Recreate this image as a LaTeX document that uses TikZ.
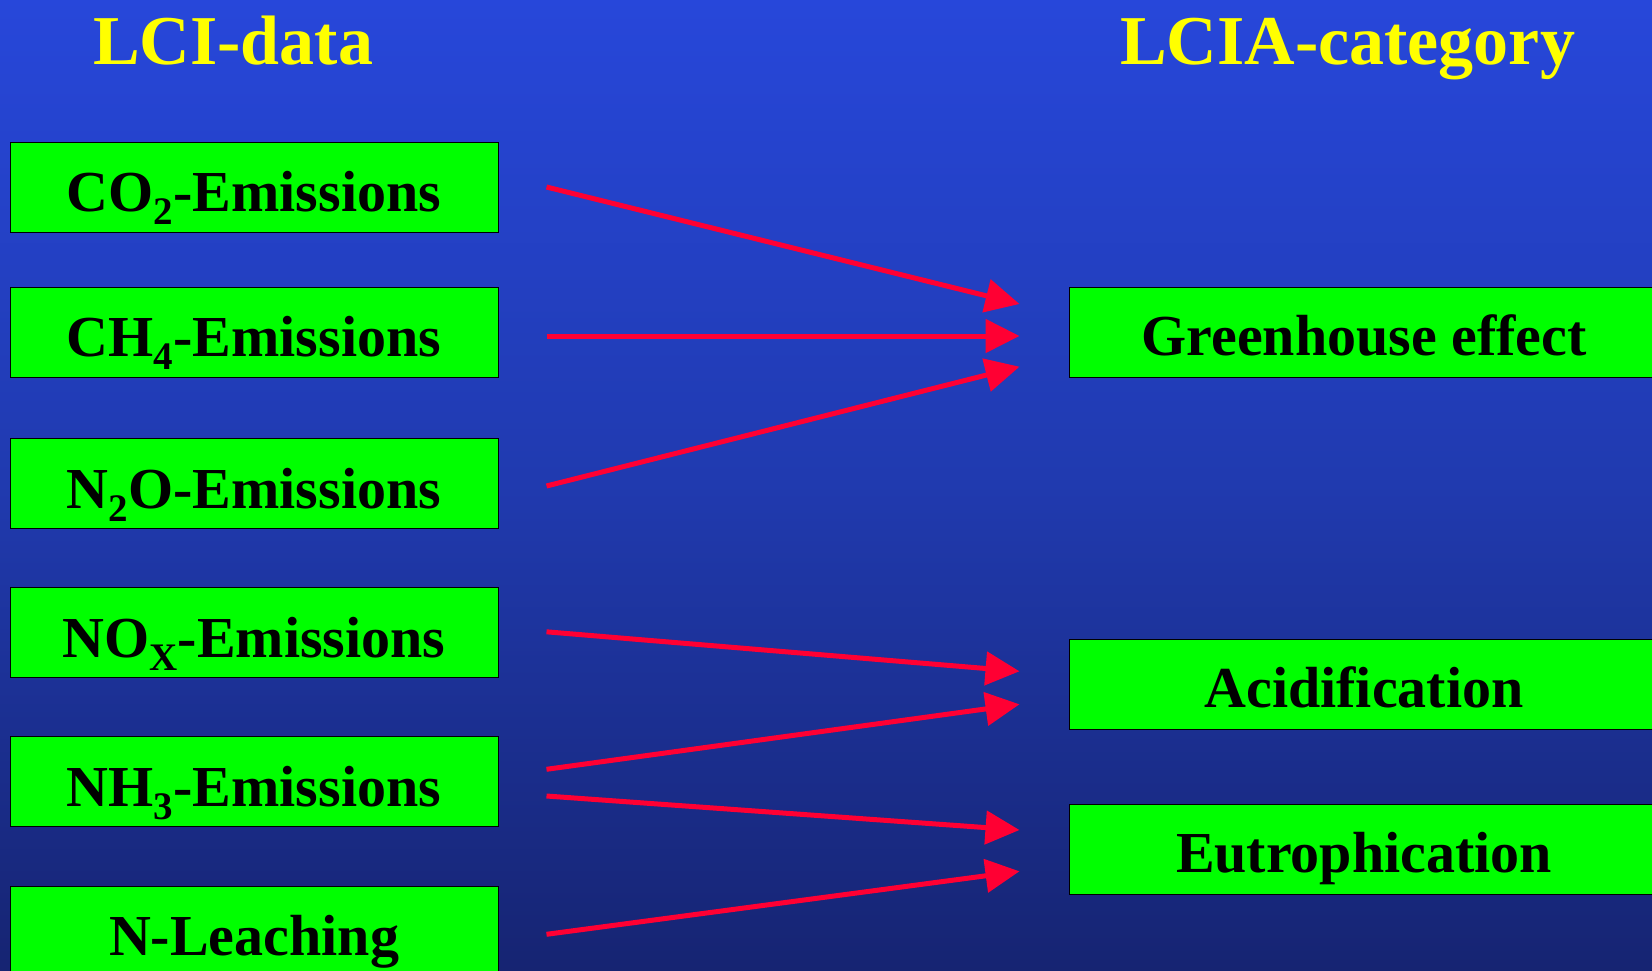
\documentclass[tikz,border=0pt]{standalone}
\usepackage{fontspec}
\setmainfont{Liberation Serif}
\usetikzlibrary{arrows.meta,calc}
\definecolor{bgtop}{RGB}{39,71,218}
\definecolor{bgmid}{RGB}{32,58,175}
\definecolor{bgbot}{RGB}{22,36,114}
\definecolor{boxgreen}{RGB}{0,255,0}
\definecolor{arrred}{RGB}{255,0,51}
\definecolor{titley}{RGB}{255,255,0}
\newcommand\lowsub[1]{\raisebox{-13pt}{\fontsize{39}{40}\selectfont #1}}
\begin{document}
\begin{tikzpicture}[x=1pt,y=-1pt,
  lbox/.style={draw=black,line width=1pt,fill=boxgreen,minimum width=488pt,
    minimum height=90pt,inner sep=0pt,text height=49pt,text depth=0pt,
    font=\fontsize{58}{60}\selectfont\bfseries},
  rbox/.style={lbox,minimum width=590pt,text height=46pt},
  ttl/.style={anchor=base west,inner sep=0pt,text=titley,
    font=\fontsize{70}{72}\selectfont\bfseries},
  arr/.style={draw=arrred,line width=5pt,-{Triangle[length=34pt,width=33pt]}}]
\useasboundingbox (0,0) rectangle (1652,970);
\clip (0,0) rectangle (1652,970);
\shade[top color=bgtop,bottom color=bgbot,middle color=bgmid] (0,0) rectangle (1652,970);

\node[ttl] (t1) at (93,64) {LCI-data};
\node[ttl] (t2) at (1120,64) {LCIA-category};

\node[lbox] (co2) at (254,187) {CO\lowsub{2}-Emissions};
\node[lbox] (ch4) at (254,332) {CH\lowsub{4}-Emissions};
\node[lbox] (n2o) at (254,483.6) {N\lowsub{2}O-Emissions};
\node[lbox] (nox) at (254,632.8) {NO\lowsub{X}-Emissions};
\node[lbox] (nh3) at (254,781.7) {NH\lowsub{3}-Emissions};
\node[lbox] (nl) at (254,931) {N-Leaching};

\node[rbox] (gh) at (1364,332) {Greenhouse effect};
\node[rbox] (ac) at (1364,684) {Acidification};
\node[rbox] (eu) at (1364,849.7) {Eutrophication};

\draw[arr] ($(co2.east)+(48,0)$) -- ($(gh.west)+(-49,-28)$);
\draw[arr] ($(ch4.east)+(48,4)$) -- ($(gh.west)+(-49,4)$);
\draw[arr] ($(n2o.east)+(48,2.4)$) -- ($(gh.west)+(-49,34.7)$);
\draw[arr] ($(nox.east)+(48,-1)$) -- ($(ac.west)+(-49,-12.7)$);
\draw[arr] ($(nh3.east)+(48,-12.4)$) -- ($(ac.west)+(-49,20.3)$);
\draw[arr] ($(nh3.east)+(48,14.3)$) -- ($(eu.west)+(-49,-19.7)$);
\draw[arr] ($(nl.east)+(48,3.3)$) -- ($(eu.west)+(-49,21.6)$);
\end{tikzpicture}
\end{document}
